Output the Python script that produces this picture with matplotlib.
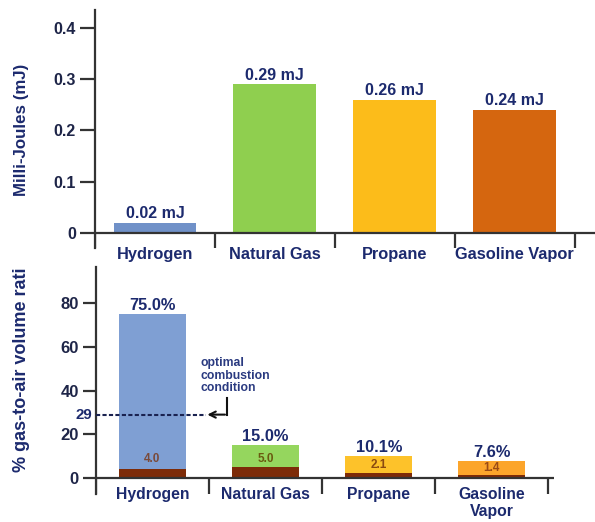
import matplotlib
matplotlib.use("Agg")
import matplotlib.pyplot as plt
import numpy as np

plt.rcParams['font.family'] = ['Liberation Sans', 'DejaVu Sans']
plt.rcParams['font.weight'] = 'bold'

# minimum ignition energy (mJ)
fuels_top = ["Hydrogen", "Natural Gas", "Propane", "Gasoline Vapor"]
ignition_mj = [0.02, 0.29, 0.26, 0.24]
ignition_labels = ["0.02 mJ", "0.29 mJ", "0.26 mJ", "0.24 mJ"]

# flammability limits (% gas-to-air by volume)
fuels_bottom = ["Hydrogen", "Natural Gas", "Propane", "Gasoline\nVapor"]
upper_limit = [75.0, 15.0, 10.1, 7.6]
lower_limit = [4.0, 5.0, 2.1, 1.4]
optimal_h2 = 29

NAVY = "#1c2a6e"
TICK = "#1e2548"
AXIS = "#333333"
DARK = "#7d2b08"

top_colors = ["#7091c8", "#8fcf4f", "#fcbc1a", "#d5660f"]
bottom_colors = ["#7f9fd3", "#95d65e", "#fdc22a", "#fca52b"]
inner_text_colors = ["#7a4a3a", "#6a5a10", "#8a4a10", "#9a4a15"]

W, H = 595, 522
fig = plt.figure(figsize=(W / 100, H / 100), dpi=100)


def px_axes(left, top, right, bottom):
    return fig.add_axes([left / W, (H - bottom) / H, (right - left) / W, (bottom - top) / H])


def style_axes(ax, tick_len, label_size):
    for side in ("top", "right", "bottom"):
        ax.spines[side].set_visible(False)
    ax.spines["left"].set_color(AXIS)
    ax.spines["left"].set_linewidth(1.6)
    ax.tick_params(axis="y", direction="out", length=tick_len, width=1.6,
                   color=AXIS, labelcolor=TICK, labelsize=label_size, pad=3)
    ax.tick_params(axis="x", bottom=False, labelbottom=False)
    ax.set_facecolor("none")


# ---- top: ignition energy ----
ax1 = px_axes(95, 10, 595, 248)
x1 = np.arange(len(fuels_top))
ax1.bar(x1, ignition_mj, width=0.69, color=top_colors, zorder=2)
ax1.set_xlim(-0.5, 3.67)
ax1.set_ylim(-0.0293, 0.435)
ax1.set_yticks([0, 0.1, 0.2, 0.3, 0.4])
ax1.set_yticklabels(["0", "0.1", "0.2", "0.3", "0.4"])
style_axes(ax1, 10.8, 11.5)
ax1.axhline(0, color=AXIS, lw=1.6, zorder=3)
ax1.vlines(np.arange(len(fuels_top) + 1) - 0.5, -0.0293, 0, color=AXIS, lw=1.6, zorder=3)
for xi, v, lab in zip(x1, ignition_mj, ignition_labels):
    ax1.text(xi, v + 0.003, lab, ha="center", va="bottom", color=NAVY, fontsize=11.5, fontweight="bold")
for xi, name in zip(x1, fuels_top):
    ax1.text(xi, -0.027, name, ha="center", va="top", color=NAVY, fontsize=11.8, fontweight="bold")
fig.text(22 / W, 1 - 130 / H, "Milli-Joules (mJ)", rotation=90, ha="center", va="center",
         color=NAVY, fontsize=12.2, fontweight="bold")

# ---- bottom: flammability range ----
ax2 = px_axes(96, 267, 554, 494)
x2 = np.arange(len(fuels_bottom))
ax2.bar(x2, upper_limit, width=0.59, color=bottom_colors, zorder=2)
ax2.bar(x2, lower_limit, width=0.59, color=DARK, zorder=2)
ax2.set_xlim(-0.5, 3.55)
ax2.set_ylim(-7.3, 96.5)
ax2.set_yticks([0, 20, 40, 60, 80])
style_axes(ax2, 9.4, 12)
ax2.axhline(0, color=AXIS, lw=1.6, zorder=3)
ax2.vlines(np.arange(len(fuels_bottom) + 1) - 0.5, -7.3, 0, color=AXIS, lw=1.6, zorder=3)

for xi, top, low, tc in zip(x2, upper_limit, lower_limit, inner_text_colors):
    ax2.text(xi, top + 0.6, f"{top:.1f}%", ha="center", va="bottom", color=NAVY,
             fontsize=11.8, fontweight="bold")
    ax2.text(xi, min(8.7, (low + top) / 2), f"{low:.1f}", ha="center", va="center", color=tc,
             fontsize=8.5, fontweight="bold", zorder=4)
for xi, name in zip(x2, fuels_bottom):
    ax2.text(xi, -4.3, name, ha="center", va="top", color=NAVY, fontsize=11.3,
             fontweight="bold", linespacing=1.1)

# optimal combustion marker for hydrogen
ax2.plot([-0.5, 0.47], [optimal_h2, optimal_h2], ls=(0, (2.0, 1.1)), color="#1a2250", lw=1.5, zorder=4)
ax2.plot([0.66, 0.66], [36.6, optimal_h2], color="#111111", lw=1.5, zorder=4)
ax2.annotate("", xy=(0.46, optimal_h2), xytext=(0.665, optimal_h2),
             arrowprops=dict(arrowstyle="->", color="#111111", lw=1.5, mutation_scale=11), zorder=4)
ax2.text(0.42, 55.5, "optimal\ncombustion\ncondition", ha="left", va="top", color="#2a3a80",
         fontsize=8.8, fontweight="bold", linespacing=1.1)
ax2.text(-0.535, optimal_h2, str(optimal_h2), ha="right", va="center", color=NAVY,
         fontsize=10.8, fontweight="bold")
fig.text(22 / W, 1 - 370 / H, "% gas-to-air volume rati", rotation=90, ha="center", va="center",
         color=NAVY, fontsize=13, fontweight="bold")

fig.savefig("out.png", dpi=100)
